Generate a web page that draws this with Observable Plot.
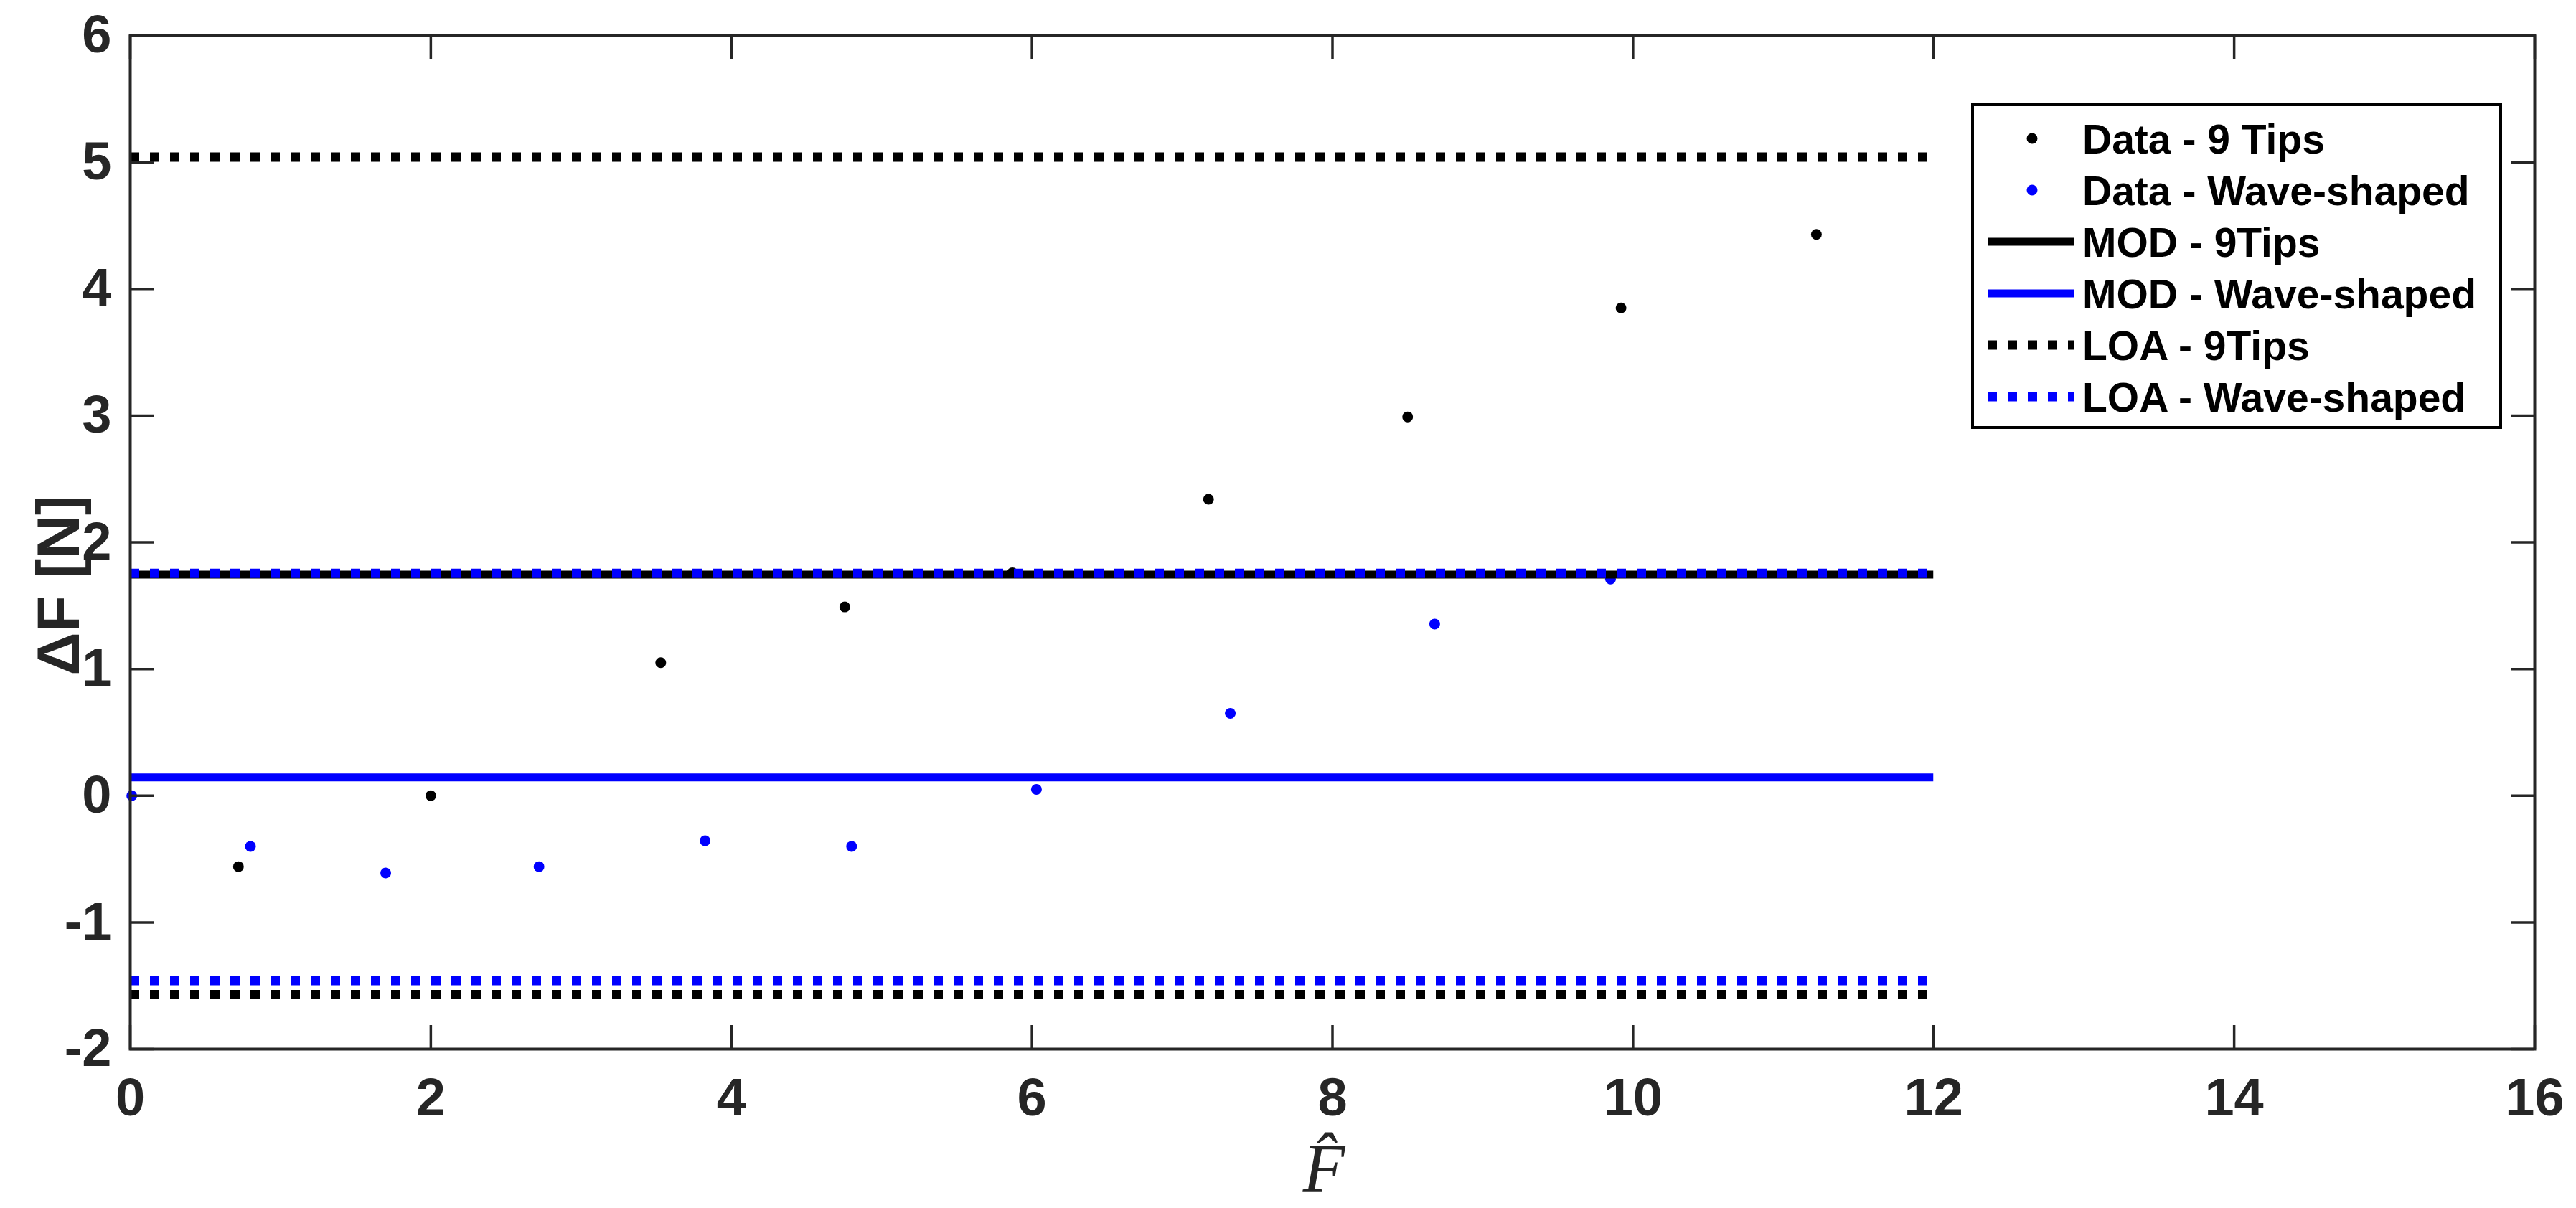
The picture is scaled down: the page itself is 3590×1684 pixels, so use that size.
<!DOCTYPE html>
<html>
<head>
<meta charset="utf-8">
<script src="https://cdn.jsdelivr.net/npm/d3@7"></script>
<script src="https://cdn.jsdelivr.net/npm/@observablehq/plot@0.6"></script>
<style>
  html, body { margin: 0; padding: 0; background: #ffffff; }
  #chart { position: relative; width: 3590px; height: 1684px; }
</style>
</head>
<body>
<div id="chart"></div>
<script>
// ---------- data ----------
const xDomain = [0, 16];
const yDomain = [-2, 6];
const xTicks = [0, 2, 4, 6, 8, 10, 12, 14, 16];
const yTicks = [-2, -1, 0, 1, 2, 3, 4, 5, 6];

const tips9X = [0.72, 2.00, 3.53, 4.755, 5.87, 7.175, 8.50, 9.92, 11.22];
const tips9Y = [-0.56, 0.00, 1.05, 1.49, 1.76, 2.34, 2.99, 3.85, 4.43];

const waveX = [0.01, 0.80, 1.70, 2.72, 3.825, 4.80, 6.03, 7.32, 8.68, 9.85];
const waveY = [0.00, -0.40, -0.61, -0.56, -0.355, -0.40, 0.05, 0.65, 1.355, 1.71];

const lineXRange = [0, 12];
const mod9Tips = [1.745];
const modWave = [0.145];
const loa9Tips = [5.04, -1.57];
const loaWave = [1.755, -1.46];

const yLabel = "ΔF [N]";
const xLabel = "F\u0302";

const legendLabels = ["Data - 9 Tips", "Data - Wave-shaped", "MOD - 9Tips", "MOD - Wave-shaped", "LOA - 9Tips", "LOA - Wave-shaped"];
const legendColors = ["#000000", "#0000ff", "#000000", "#0000ff", "#000000", "#0000ff"];
const legendKinds = ["dot", "dot", "solid", "solid", "dotted", "dotted"];

// ---------- layout / style ----------
const W = 3590, H = 1684;
const M = {left: 181, right: 58, top: 49, bottom: 222};
const innerW = W - M.left - M.right;
const innerH = H - M.top - M.bottom;
const tickLen = 33;
const axisColor = "#262626";
const blue = "#0000ff";
const sans = "'Liberation Sans', Arial, Helvetica, sans-serif";
const serif = "'Liberation Serif', 'Times New Roman', serif";
const dotted = "13,15";

const tips9 = tips9X.map((x, i) => ({x, y: tips9Y[i]}));
const wave = waveX.map((x, i) => ({x, y: waveY[i]}));

const plot = Plot.plot({
  width: W,
  height: H,
  marginLeft: M.left,
  marginRight: M.right,
  marginTop: M.top,
  marginBottom: M.bottom,
  x: {domain: xDomain},
  y: {domain: yDomain},
  style: {background: "#ffffff", fontFamily: sans, overflow: "visible"},
  marks: [
    Plot.dot(tips9, {x: "x", y: "y", r: 7.5, fill: "#000000", stroke: null}),
    Plot.dot(wave, {x: "x", y: "y", r: 7.5, fill: blue, stroke: null}),
    Plot.ruleY(mod9Tips, {x1: lineXRange[0], x2: lineXRange[1], stroke: "#000000", strokeWidth: 11}),
    Plot.ruleY(modWave, {x1: lineXRange[0], x2: lineXRange[1], stroke: blue, strokeWidth: 11}),
    Plot.ruleY(loa9Tips, {x1: lineXRange[0], x2: lineXRange[1], stroke: "#000000", strokeWidth: 13, strokeDasharray: dotted}),
    Plot.ruleY(loaWave, {x1: lineXRange[0], x2: lineXRange[1], stroke: blue, strokeWidth: 13, strokeDasharray: dotted}),
    // inward ticks on all four sides (MATLAB box style)
    Plot.tickX(xTicks, {x: d => d, insetTop: innerH - tickLen, stroke: axisColor, strokeWidth: 3.5}),
    Plot.tickX(xTicks, {x: d => d, insetBottom: innerH - tickLen, stroke: axisColor, strokeWidth: 3.5}),
    Plot.tickY(yTicks, {y: d => d, insetRight: innerW - tickLen, stroke: axisColor, strokeWidth: 3.5}),
    Plot.tickY(yTicks, {y: d => d, insetLeft: innerW - tickLen, stroke: axisColor, strokeWidth: 3.5}),
    Plot.frame({stroke: axisColor, strokeWidth: 4}),
    Plot.axisX(xTicks, {tickSize: 0, tickPadding: 40, tickFormat: d => String(d), fontSize: 74, fontWeight: "bold", fill: axisColor, label: null}),
    Plot.axisY(yTicks, {tickSize: 0, tickPadding: 26, tickFormat: d => String(d), fontSize: 74, fontWeight: "bold", fill: axisColor, label: null}),
    Plot.text([yLabel], {frameAnchor: "left", textAnchor: "middle", lineAnchor: "middle", rotate: -90, dx: -98, dy: 60, fontSize: 84, fontWeight: "bold", fill: axisColor}),
    Plot.text([xLabel], {frameAnchor: "bottom", textAnchor: "middle", dx: -12, dy: 198, lineAnchor: "bottom", fontSize: 96, fontStyle: "italic", fontFamily: serif, fill: axisColor})
  ]
});

const chart = document.getElementById("chart");
chart.appendChild(plot);

// ---------- legend (overlay inside the axes, upper right) ----------
const legLeft = 2747, legTop = 144, legW = 740, legH = 454;
const rowY0 = 49, rowStep = 72;
const swX1 = 23, swX2 = 143, swMid = 85, textX = 155;

const leg = d3.select(chart).append("svg")
  .attr("width", legW).attr("height", legH)
  .style("position", "absolute").style("left", legLeft + "px").style("top", legTop + "px")
  .style("overflow", "visible");

leg.append("rect")
  .attr("x", 2).attr("y", 2).attr("width", legW - 4).attr("height", legH - 4)
  .attr("fill", "#ffffff").attr("stroke", "#000000").attr("stroke-width", 4);

legendLabels.forEach((label, i) => {
  const cy = rowY0 + i * rowStep;
  const kind = legendKinds[i], color = legendColors[i];
  if (kind === "dot") {
    leg.append("circle").attr("cx", swMid).attr("cy", cy).attr("r", 7.5).attr("fill", color);
  } else {
    leg.append("line").attr("x1", swX1).attr("x2", swX2).attr("y1", cy).attr("y2", cy)
      .attr("stroke", color)
      .attr("stroke-width", kind === "solid" ? 11 : 13)
      .attr("stroke-dasharray", kind === "dotted" ? dotted : null);
  }
  leg.append("text")
    .attr("x", textX).attr("y", cy).attr("dy", "0.36em")
    .attr("font-family", sans).attr("font-weight", "bold").attr("font-size", 57)
    .attr("fill", "#000000")
    .text(label);
});
</script>
</body>
</html>
